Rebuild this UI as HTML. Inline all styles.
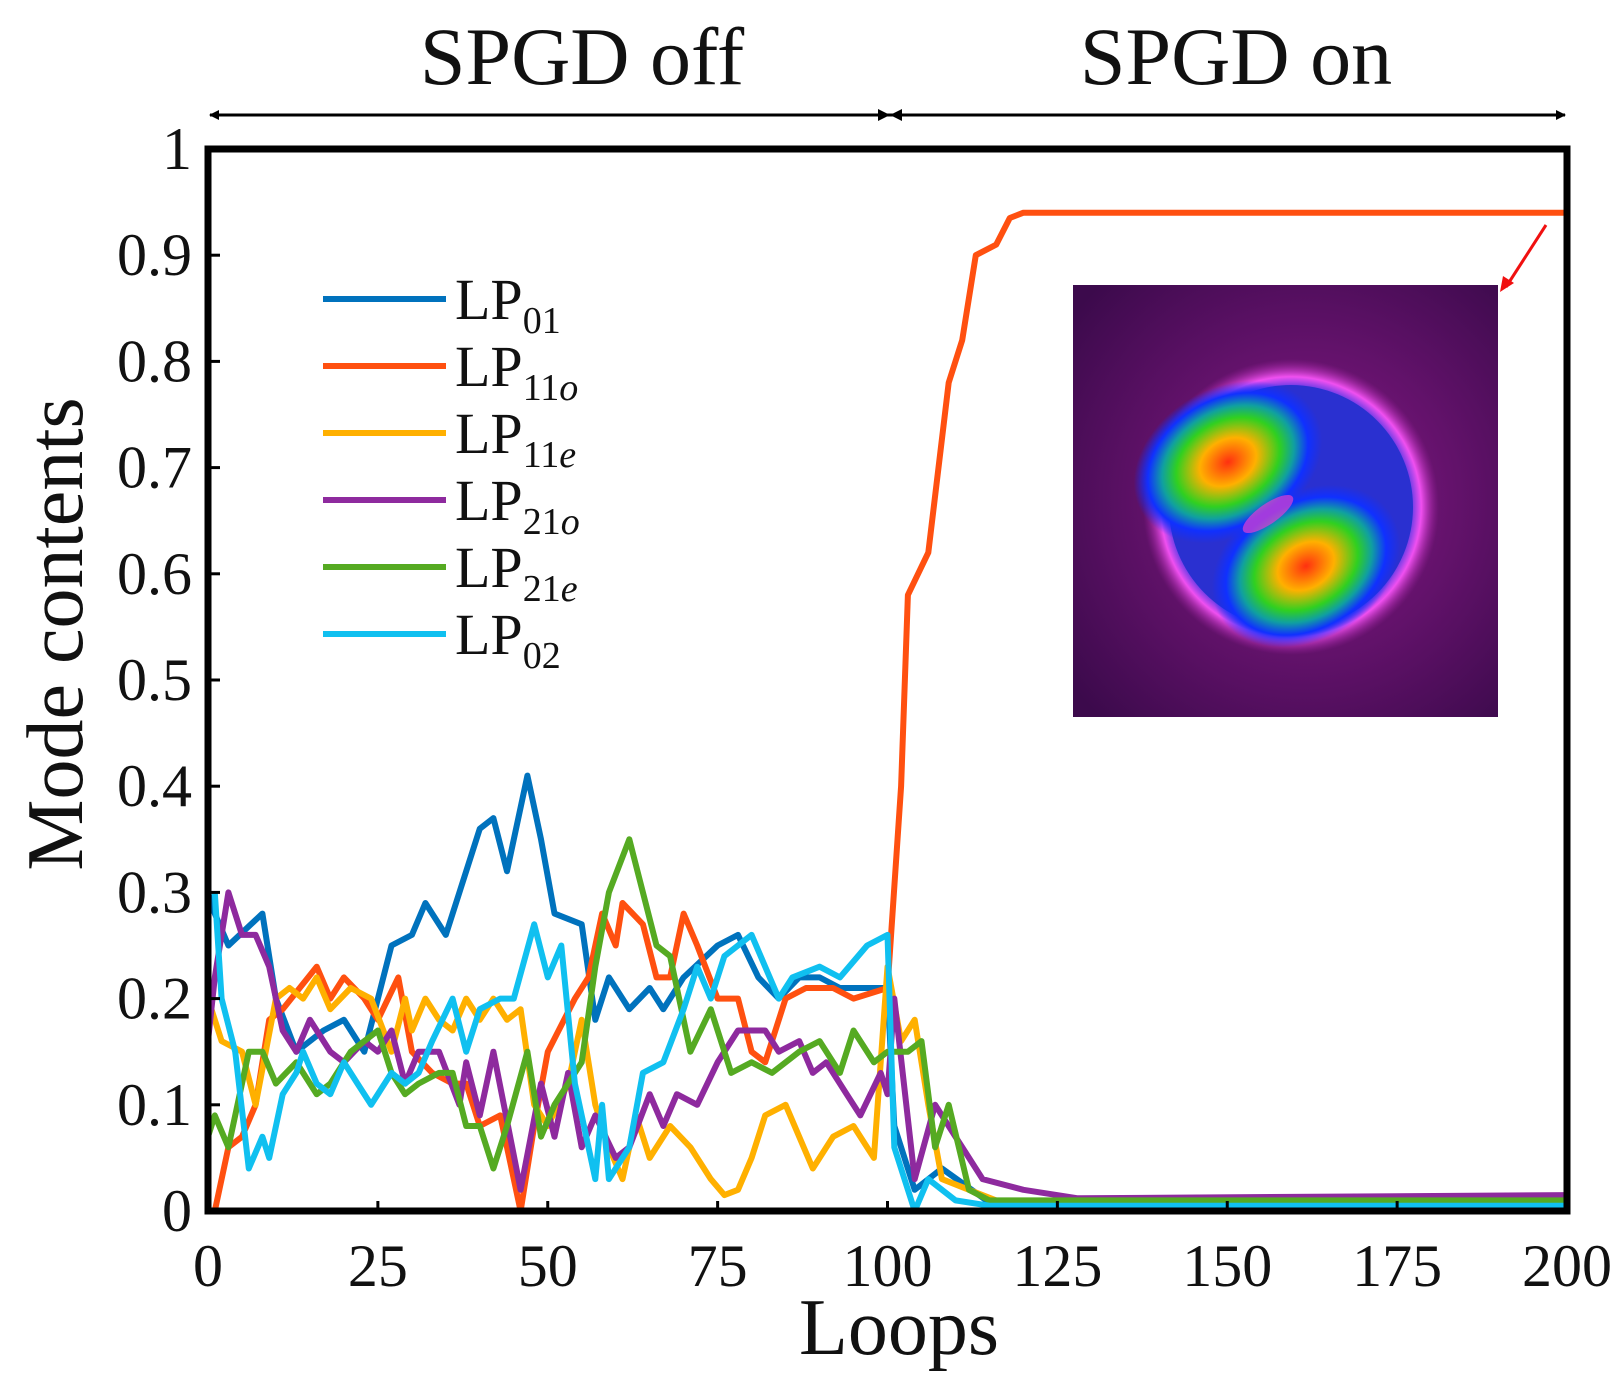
<!DOCTYPE html>
<html><head><meta charset="utf-8"><style>
body{margin:0;background:#fff}
svg text{font-family:"Liberation Serif",serif;fill:#111}
</style></head><body>
<svg id="chart" width="1621" height="1384" viewBox="0 0 1621 1384" xmlns="http://www.w3.org/2000/svg">
<defs>
<radialGradient id="bg" cx="0.55" cy="0.5" r="0.7"><stop offset="0" stop-color="#8a1a8a"/><stop offset="1" stop-color="#3c0a4c"/></radialGradient>
<radialGradient id="ring" cx="0.5" cy="0.5" r="0.5"><stop offset="0.78" stop-color="#2030e0"/><stop offset="0.88" stop-color="#f050f0"/><stop offset="1" stop-color="#a020a0" stop-opacity="0"/></radialGradient>
<radialGradient id="lobe" cx="0.5" cy="0.5" r="0.5"><stop offset="0" stop-color="#ff3010"/><stop offset="0.3" stop-color="#ffb000"/><stop offset="0.55" stop-color="#30d020"/><stop offset="0.7" stop-color="#10a0a0"/><stop offset="0.85" stop-color="#1030ff"/><stop offset="1" stop-color="#1030ff" stop-opacity="0"/></radialGradient>
<marker id="ah" markerWidth="10" markerHeight="10" refX="9" refY="5" orient="auto" markerUnits="userSpaceOnUse"><path d="M0,0 L10,5 L0,10 z" fill="#000"/></marker>
</defs>
<g id="plot"></g>
</svg>
<script>
const NS="http://www.w3.org/2000/svg";
const svg=document.getElementById('chart');
const g=document.getElementById('plot');
const xTicks=[0,25,50,75,100,125,150,175,200];
const yTicks=[0,0.1,0.2,0.3,0.4,0.5,0.6,0.7,0.8,0.9,1];
const yTickLabels=["0","0.1","0.2","0.3","0.4","0.5","0.6","0.7","0.8","0.9","1"];
const seriesNames=["LP01","LP11o","LP11e","LP21o","LP21e","LP02"];
const lp01X=[0,1,3,8,10,13,17,20,23,25,27,30,32,35,38,40,42,44,47,49,51,55,57,59,62,65,67,70,75,78,81,84,87,90,93,97,100,101,104,108,115,200];
const lp01Y=[0.3,0.28,0.25,0.28,0.2,0.15,0.17,0.18,0.15,0.2,0.25,0.26,0.29,0.26,0.32,0.36,0.37,0.32,0.41,0.35,0.28,0.27,0.18,0.22,0.19,0.21,0.19,0.22,0.25,0.26,0.22,0.2,0.22,0.22,0.21,0.21,0.21,0.08,0.02,0.04,0.008,0.008];
const lp11oX=[1,3,5,7,9,11,16,18,20,23,25,28,30,33,36,38,40,43,46,48,50,54,56,58,60,61,64,66,68,70,72,75,78,80,82,85,88,92,95,100,102,103,106,109,111,113,116,118,120,200];
const lp11oY=[0,0.06,0.07,0.1,0.18,0.19,0.23,0.2,0.22,0.2,0.18,0.22,0.15,0.13,0.12,0.12,0.08,0.09,0,0.08,0.15,0.2,0.22,0.28,0.25,0.29,0.27,0.22,0.22,0.28,0.25,0.2,0.2,0.15,0.14,0.2,0.21,0.21,0.2,0.21,0.4,0.58,0.62,0.78,0.82,0.9,0.91,0.935,0.94,0.94];
const lp11eX=[0,2,5,7,10,12,14,16,18,21,24,27,29,30,32,34,36,38,40,42,44,46,48,50,53,55,57,59,61,63,65,68,71,74,76,78,80,82,85,87,89,92,95,98,100,102,104,106,108,112,116,200];
const lp11eY=[0.2,0.16,0.15,0.1,0.2,0.21,0.2,0.22,0.19,0.21,0.2,0.15,0.2,0.17,0.2,0.18,0.17,0.2,0.18,0.2,0.18,0.19,0.1,0.08,0.12,0.18,0.1,0.06,0.03,0.09,0.05,0.08,0.06,0.03,0.015,0.02,0.05,0.09,0.1,0.07,0.04,0.07,0.08,0.05,0.23,0.16,0.18,0.1,0.03,0.02,0.01,0.005];
const lp21oX=[0,1,3,5,7,9,11,13,15,18,20,23,25,27,29,31,34,37,38,40,42,46,49,51,53,55,57,60,62,65,67,69,72,75,78,82,84,87,89,91,94,96,99,100,101,104,107,110,114,120,128,200];
const lp21oY=[0.16,0.22,0.3,0.26,0.26,0.23,0.17,0.15,0.18,0.15,0.14,0.16,0.15,0.17,0.12,0.15,0.15,0.1,0.14,0.09,0.15,0.02,0.12,0.07,0.13,0.06,0.09,0.05,0.06,0.11,0.08,0.11,0.1,0.14,0.17,0.17,0.15,0.16,0.13,0.14,0.11,0.09,0.13,0.11,0.2,0.03,0.1,0.07,0.03,0.02,0.012,0.015];
const lp21eX=[0,1,3,6,8,10,13,16,18,21,25,27,29,31,34,36,38,40,42,44,47,49,51,55,57,59,62,64,66,68,71,74,77,80,83,87,90,93,95,98,100,103,105,107,109,112,115,200];
const lp21eY=[0.07,0.09,0.06,0.15,0.15,0.12,0.14,0.11,0.12,0.15,0.17,0.13,0.11,0.12,0.13,0.13,0.08,0.08,0.04,0.08,0.15,0.07,0.1,0.14,0.23,0.3,0.35,0.3,0.25,0.24,0.15,0.19,0.13,0.14,0.13,0.15,0.16,0.13,0.17,0.14,0.15,0.15,0.16,0.06,0.1,0.02,0.01,0.01];
const lp02X=[1,2,4,6,8,9,11,13,14,16,18,20,22,24,27,29,31,33,36,38,40,43,45,48,50,52,54,57,58,59,62,64,67,70,72,74,76,80,84,86,90,93,97,100,101,104,106,110,115,200];
const lp02Y=[0.3,0.2,0.15,0.04,0.07,0.05,0.11,0.13,0.15,0.12,0.11,0.14,0.12,0.1,0.13,0.12,0.13,0.16,0.2,0.15,0.19,0.2,0.2,0.27,0.22,0.25,0.12,0.03,0.1,0.03,0.06,0.13,0.14,0.19,0.23,0.2,0.24,0.26,0.2,0.22,0.23,0.22,0.25,0.26,0.06,0,0.03,0.01,0.005,0.005];
const seriesX=[lp01X,lp11oX,lp11eX,lp21oX,lp21eX,lp02X];
const seriesY=[lp01Y,lp11oY,lp11eY,lp21oY,lp21eY,lp02Y];
const colors=["#0072bd","#ff5010","#ffb000","#8e2a9e","#55aa22","#10c0f0"];

const X0=208,X1=1567,Y0=1211,Y1=149;
const sx=v=>X0+(v-0)/(200-0)*(X1-X0);
const sy=v=>Y0-(v-0)/(1-0)*(Y0-Y1);
function mk(tag,attrs,parent){const e=document.createElementNS(NS,tag);for(const k in attrs)e.setAttribute(k,attrs[k]);(parent||g).appendChild(e);return e;}

// inset image
const inset=mk('g',{});


mk('rect',{x:1073,y:285,width:425,height:432,fill:'url(#bg)'},inset);
mk('circle',{cx:1291,cy:507,r:148,fill:'url(#ring)'},inset);
mk('circle',{cx:1291,cy:507,r:122,fill:'#2a30d0'},inset);
mk('ellipse',{cx:1228,cy:462,rx:100,ry:74,transform:'rotate(-30 1228 462)',fill:'url(#lobe)'},inset);
mk('ellipse',{cx:1306,cy:566,rx:100,ry:74,transform:'rotate(-30 1306 566)',fill:'url(#lobe)'},inset);
mk('ellipse',{cx:1268,cy:514,rx:30,ry:10,transform:'rotate(-35 1268 514)',fill:'#e040d0',opacity:0.7},inset);
const ra=mk('line',{x1:1546,y1:225,x2:1506,y2:287,stroke:'#f01010','stroke-width':3});


mk('path',{d:'M1500,292 L1503,276 L1514,283 z',fill:'#f01010'});

// series
for(let s=0;s<seriesX.length;s++){
  let d='';
  for(let i=0;i<seriesX[s].length;i++){d+=(i?'L':'M')+sx(seriesX[s][i]).toFixed(1)+','+sy(seriesY[s][i]).toFixed(1);}
  const p=mk('path',{d:d,fill:'none',stroke:colors[s],'stroke-width':6,'stroke-linejoin':'round'});
  
  
}
// frame
const fr=mk('rect',{x:X0,y:Y1,width:X1-X0,height:Y0-Y1,fill:'none',stroke:'#000','stroke-width':7});


// ticks
for(let i=0;i<xTicks.length;i++){
  const x=sx(xTicks[i]);
  mk('line',{x1:x,y1:Y0,x2:x,y2:Y0-10,stroke:'#000','stroke-width':3});
  const t=mk('text',{x:x,y:1286,'text-anchor':'middle','font-size':60});
  t.textContent=xTicks[i];
  
  
}
for(let i=0;i<yTicks.length;i++){
  const y=sy(yTicks[i]);
  mk('line',{x1:X0,y1:y,x2:X0+12,y2:y,stroke:'#000','stroke-width':3});
  const t=mk('text',{x:192,y:y+20,'text-anchor':'end','font-size':60});
  t.textContent=yTickLabels[i];
  
  
}
// legend
const subs=["01","11o","11e","21o","21e","02"];
for(let i=0;i<subs.length;i++){
  const y=299+i*67;
  const lg=mk('g',{});
  
  
  mk('line',{x1:323,y1:y,x2:446,y2:y,stroke:colors[i],'stroke-width':6},lg);
  const t=mk('text',{x:455,y:y+20,'font-size':58},lg);
  const num=subs[i].slice(0,2),lt=subs[i].slice(2);
  t.innerHTML='LP<tspan font-size="38" dy="14">'+num+'</tspan>'+(lt?'<tspan font-size="38" font-style="italic">'+lt+'</tspan>':'');
}
// top arrows
const a1=mk('line',{x1:890,y1:115,x2:210,y2:115,stroke:'#000','stroke-width':3,'marker-end':'url(#ah)'});

mk('line',{x1:890,y1:115,x2:1565,y2:115,stroke:'#000','stroke-width':3,'marker-end':'url(#ah)'});
mk('path',{d:'M890,115 L902,109 L902,121 z',fill:'#000'});
mk('path',{d:'M890,115 L878,109 L878,121 z',fill:'#000'});
function lbl(txt,attrs,name){const t=mk('text',attrs);t.textContent=txt;return t;}
lbl('SPGD off',{x:582,y:84,'text-anchor':'middle','font-size':82},'spgd-off-label');
lbl('SPGD on',{x:1236,y:84,'text-anchor':'middle','font-size':82},'spgd-on-label');
lbl('Loops',{x:899,y:1354,'text-anchor':'middle','font-size':80},'x-axis-title');
lbl('Mode contents',{x:0,y:0,'text-anchor':'middle','font-size':80,transform:'translate(82,634) rotate(-90)'},'y-axis-title');
</script>
</body></html>
